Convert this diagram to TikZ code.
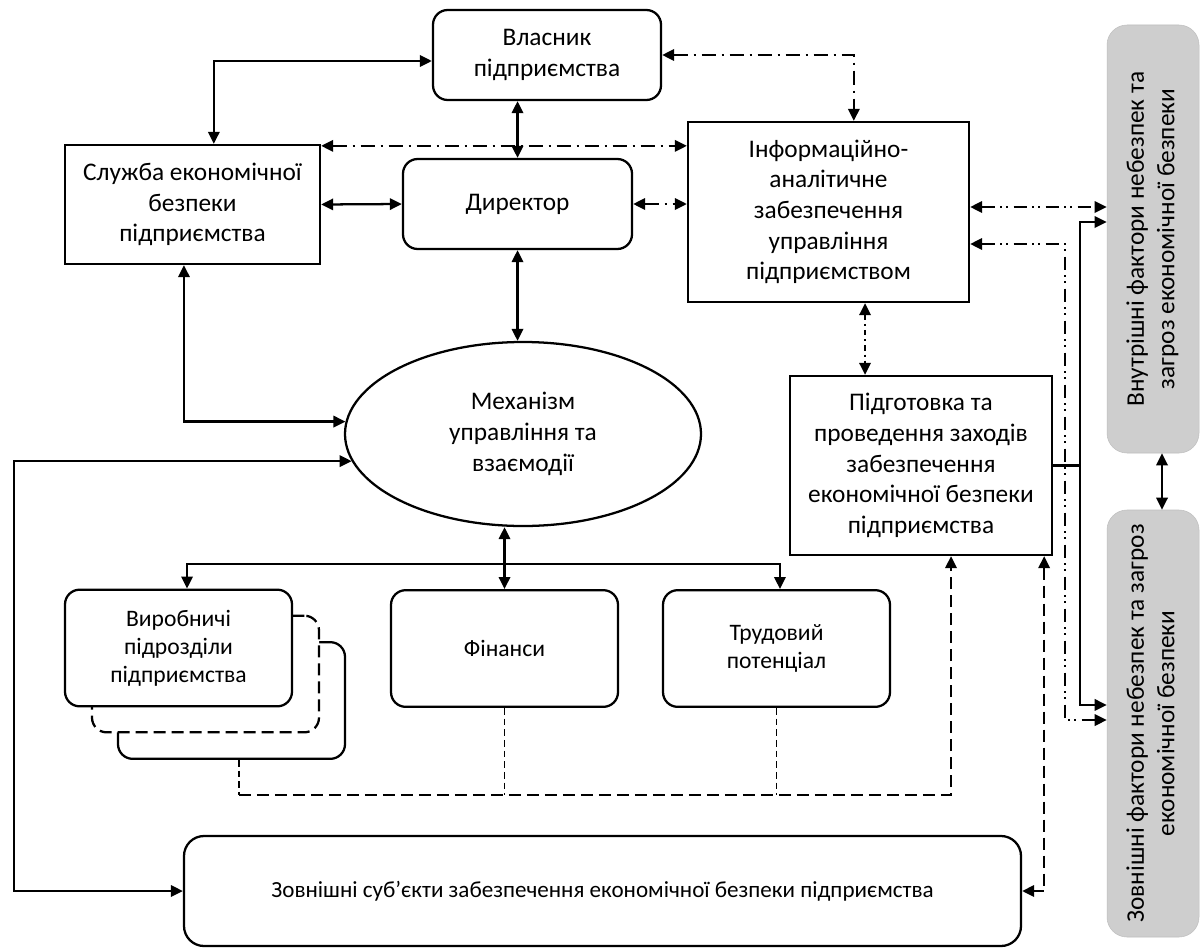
\documentclass[tikz,border=0pt]{standalone}
\usepackage{fontspec}
\setmainfont{Carlito}
\usetikzlibrary{arrows.meta,shapes.geometric}
\definecolor{factorgrey}{RGB}{206,206,206}
\tikzset{
  block/.style={draw,line width=1.7pt,fill=white,align=center,inner sep=2pt,
    font=\fontsize{19}{23}\selectfont},
  roundblock/.style={block,rounded corners=11pt},
  unitblock/.style={roundblock,minimum width=170.25pt,minimum height=87.5pt,
    font=\fontsize{17.7}{21}\selectfont},
  factor/.style={draw=black!25,fill=factorgrey,rounded corners=15pt,minimum width=69pt,
    inner sep=0pt,font=\fontsize{19}{23}\selectfont},
  link/.style={line width=1.7pt},
  ddline/.style={link,dash pattern=on 11pt off 4pt on 2pt off 4pt},
  dddline/.style={link,dash pattern=on 10pt off 4pt on 1.5pt off 3pt on 1.5pt off 4pt},
  dotline/.style={link,dash pattern=on 4pt off 3pt on 1.5pt off 3pt},
  longdash/.style={link,dash pattern=on 9pt off 4.5pt},
  thindash/.style={line width=0.8pt,dash pattern=on 5pt off 3pt}
}
\begin{document}
\begin{tikzpicture}[x=0.75pt,y=-0.75pt,>={Triangle[length=9pt,width=8.5pt]}]
  \fill[white] (0,0) rectangle (1202,949);
  \node[roundblock,minimum width=171pt,minimum height=67.5pt] (vlasnyk) at (547,55) {Власник\\підприємства};
  \node[block,minimum width=191.25pt,minimum height=89.25pt] (sluzhba) at (192.5,204.5) {Служба економічної\\безпеки\\підприємства};
  \node[roundblock,minimum width=171.75pt,minimum height=67.5pt] (dyrektor) at (517.5,204) {Директор};
  \node[block,minimum width=210.75pt,minimum height=135pt] (inform) at (828.5,212) {Інформаційно-\\аналітичне\\забезпечення\\управління\\підприємством};
  \node[block,ellipse,inner sep=0pt,minimum width=267pt,minimum height=138pt] (mekh) at (523,434) {Механізм\\управління та\\взаємодії};
  \node[block,minimum width=196.5pt,minimum height=134.25pt] (pidgot) at (921,465.5) {Підготовка та\\проведення заходів\\забезпечення\\економічної безпеки\\підприємства};
  \node[factor,minimum height=321pt] (vnutr) at (1153,239) {\rotatebox{90}{\begin{tabular}{@{}c@{}}Внутрішні фактори небезпек та\\загроз економічної безпеки\end{tabular}}};
  \node[factor,minimum height=320.25pt] (zovn) at (1153,723.5) {\rotatebox{90}{\begin{tabular}{@{}c@{}}Зовнішні фактори небезпек та загроз\\економічної безпеки\end{tabular}}};
  \node[unitblock] (vyrob3) at (231.5,700.5) {};
  \node[unitblock,longdash] (vyrob2) at (205.5,674) {};
  \node[unitblock] (vyrob) at (178.5,648) {Виробничі\\підрозділи\\підприємства};
  \node[unitblock] (finansy) at (504.5,648.5) {Фінанси};
  \node[unitblock] (trud) at (776.5,648.5) {Трудовий\\потенціал};
  \node[roundblock,rounded corners=15pt,minimum width=627.75pt,minimum height=82.5pt,
    font=\fontsize{17.3}{20}\selectfont] (subj) at (602.5,891) {Зовнішні суб’єкти забезпечення економічної безпеки підприємства};
  \coordinate (leftrail) at (14,700);
  \coordinate (rail) at (1065,0);
  \coordinate (si) at ([yshift=-1.5pt]sluzhba.north east);
  \coordinate (ip) at ([xshift=27.4pt]inform.south);
  \coordinate (iv) at ([yshift=3.75pt]inform.east);
  \coordinate (iz) at ([yshift=-24pt]inform.east);
  \coordinate (zd) at ([yshift=2.6pt]zovn.west);
  \coordinate (sx) at ([xshift=20.25pt]pidgot.east);
  \coordinate (bus) at ([yshift=18.75pt]finansy.north);
  \coordinate (dl) at ([xshift=5.6pt,yshift=-26.25pt]vyrob3.south);
  \begin{scope}[<->]
    \draw[link] ([yshift=-4.5pt]vlasnyk.west) -| ([xshift=16pt]sluzhba.north);
    \draw[link] (dyrektor.north |- vlasnyk.south) -- (dyrektor.north);
    \draw[link] (sluzhba.east) -- (dyrektor.west);
    \draw[link] (dyrektor.south) -- (dyrektor.south |- mekh.north);
    \draw[link] ([xshift=-6.4pt]sluzhba.south) |- (mekh.176);
    \draw[link] (mekh.189) -| (leftrail) |- (subj.west);
    \draw[link] (finansy.north |- mekh.south) -- (finansy.north);
    \draw[ddline] (vlasnyk.east) -| ([xshift=19pt]inform.north);
    \draw[ddline] (si) -- (si -| inform.west);
    \draw[ddline] (dyrektor.east) -- (dyrektor.east -| inform.west);
    \draw[dotline] (ip) -- (ip |- pidgot.north);
    \draw[dddline] (iv) -- (iv -| vnutr.west);
    \draw[dddline] (iz) -| (rail |- zd) -- (zd);
    \draw[link] ([xshift=6.75pt]vnutr.south) -- ([xshift=6.75pt]zovn.north);
    \draw[longdash] ([xshift=-6.75pt]pidgot.south east) |- (subj.east);
  \end{scope}
  \draw[link] (pidgot.east) -- (sx);
  \draw[link,->] (sx) |- ([yshift=12.75pt]vnutr.west);
  \draw[link,->] (sx) |- ([yshift=13.9pt]zovn.west);
  \draw[link,->] (bus) -| ([xshift=6.4pt]vyrob.north);
  \draw[link,->] (bus) -| ([xshift=2.6pt]trud.north);
  \draw[thindash] ([xshift=5.6pt]vyrob3.south) -- (dl);
  \draw[thindash] (finansy.south) -- (finansy.south |- dl);
  \draw[thindash] (trud.south) -- (trud.south |- dl);
  \draw[longdash,->] (dl) -| ([xshift=22.5pt]pidgot.south);
\end{tikzpicture}
\end{document}
